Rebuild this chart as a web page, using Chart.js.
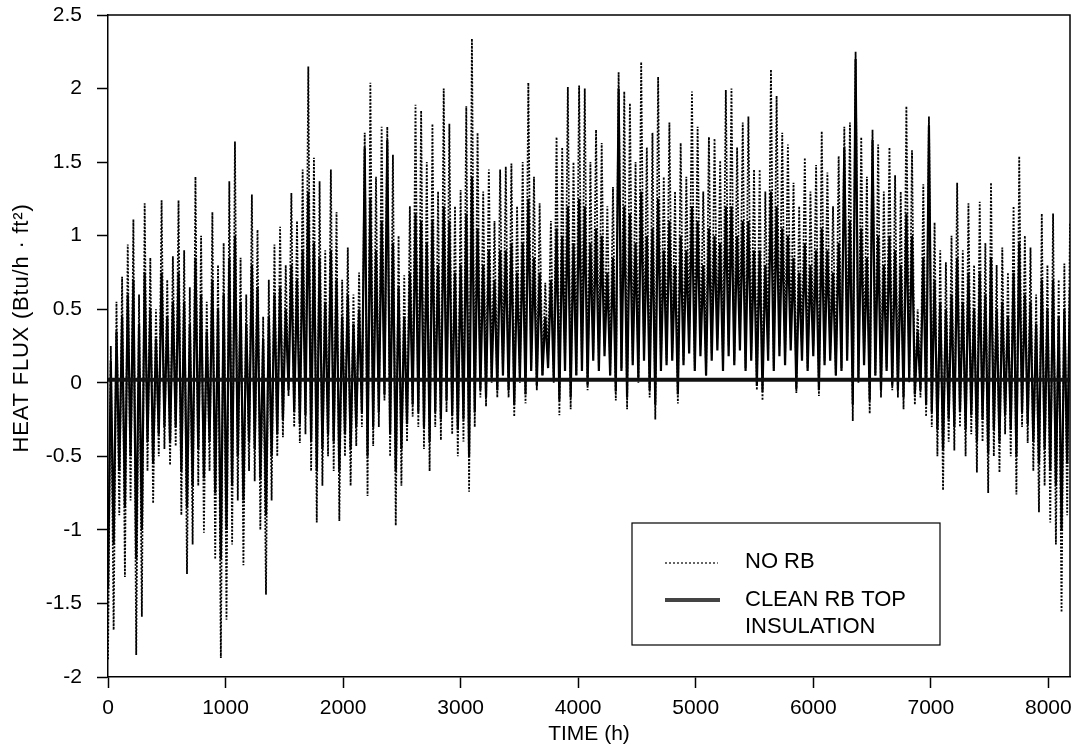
<!DOCTYPE html>
<html>
<head>
<meta charset="utf-8">
<title>Heat flux — NO RB vs CLEAN RB TOP INSULATION</title>
<script src="https://cdn.jsdelivr.net/npm/chart.js@4.4.1/dist/chart.umd.min.js"></script>
<style>
  html, body { margin: 0; padding: 0; background: #fff; }
  #wrap { width: 1080px; height: 751px; position: relative; }
</style>
</head>
<body>
<div id="wrap"><canvas id="chart"></canvas></div>
<script>
const BLOCK_HOURS = 48;
const X_MAX = 8184;
const BASELINE = 0.02;
const xTickValues = [0, 1000, 2000, 3000, 4000, 5000, 6000, 7000, 8000];

// NO RB (dotted) — block highs / lows, Btu/h·ft²
const noRbHigh = [
  0.25, 0.55, 0.72, 0.94, 1.11, 0.6, 1.22, 0.85, 0.5, 1.24,
  0.7, 0.86, 1.24, 0.9, 0.65, 1.40, 1.0, 0.55, 1.16, 0.8,
  0.95, 1.37, 1.64, 0.85, 0.6, 1.28, 1.04, 0.45, 0.7, 0.94,
  1.06, 0.8, 1.29, 1.1, 1.45, 2.15, 1.53, 1.37, 0.9, 1.45,
  1.16, 0.7, 0.92, 0.6, 0.75, 1.70, 2.04, 1.4, 1.74, 1.74,
  1.55, 1.0, 0.73, 1.2, 1.89, 1.85, 1.5, 1.76, 1.3, 2.0,
  1.76, 1.2, 1.31, 1.88, 2.34, 1.70, 1.3, 1.45, 1.1, 1.45,
  1.47, 1.49, 1.2, 1.50, 2.04, 1.4, 1.22, 0.68, 1.1, 1.67,
  1.6, 2.01, 1.5, 2.02, 2.0, 1.5, 1.72, 1.63, 1.2, 1.33,
  2.11, 1.98, 1.90, 1.5, 2.18, 1.6, 1.70, 2.08, 1.4, 1.77,
  1.3, 1.63, 1.4, 1.98, 1.74, 1.3, 1.67, 1.66, 1.51, 1.99,
  2.0, 1.6, 1.77, 1.81, 1.45, 1.45, 1.3, 2.13, 1.95, 1.7,
  1.62, 1.36, 1.2, 1.53, 1.3, 1.48, 1.71, 1.43, 1.2, 1.54,
  1.74, 1.77, 2.25, 1.67, 1.4, 1.72, 1.62, 1.3, 1.60, 1.41,
  1.3, 1.88, 1.58, 0.5, 1.35, 1.81, 1.09, 0.9, 0.82, 1.0,
  1.36, 0.9, 1.22, 0.8, 1.23, 0.95, 1.36, 0.8, 0.92, 0.75,
  1.2, 1.54, 1.0, 0.92, 0.6, 1.15, 0.8, 1.15, 0.7, 0.81, 1.09
];
const noRbLow = [
  -1.88, -1.68, -0.9, -1.32, -0.8, -1.85, -1.59, -0.6, -0.82, -0.5,
  -0.45, -0.56, -0.43, -0.9, -1.30, -1.1, -0.7, -1.02, -0.6, -1.2,
  -1.87, -1.61, -1.10, -0.8, -1.24, -0.6, -0.67, -1.0, -1.44, -0.8,
  -0.5, -0.37, -0.09, -0.3, -0.41, -0.35, -0.6, -0.95, -0.7, -0.5,
  -0.6, -0.94, -0.5, -0.7, -0.43, -0.3, -0.77, -0.43, -0.3, -0.12,
  -0.5, -0.97, -0.7, -0.4, -0.23, -0.3, -0.45, -0.60, -0.3, -0.39,
  -0.2, -0.35, -0.50, -0.4, -0.74, -0.3, -0.1, -0.16, 0.0, -0.1,
  0.05, -0.1, -0.23, 0.0, -0.14, 0.1, -0.05, 0.05, 0.15, 0.0,
  -0.22, 0.1, -0.18, 0.05, 0.1, -0.05, 0.2, 0.1, 0.25, 0.05,
  -0.12, 0.1, -0.18, 0.15, 0.0, 0.2, -0.1, -0.25, 0.1, 0.15,
  0.2, -0.14, 0.15, 0.3, 0.1, 0.25, 0.05, 0.2, 0.3, 0.1,
  0.25, 0.15, 0.3, 0.1, 0.2, -0.05, -0.12, 0.2, 0.1, 0.25,
  0.15, 0.3, -0.07, 0.2, 0.1, 0.25, -0.09, 0.15, 0.2, 0.05,
  0.1, 0.2, -0.26, 0.0, 0.15, -0.21, 0.05, -0.1, 0.1, -0.05,
  -0.1, -0.18, 0.0, -0.15, -0.1, -0.23, -0.3, -0.5, -0.73, -0.4,
  -0.46, -0.3, -0.5, -0.35, -0.61, -0.4, -0.75, -0.5, -0.61, -0.35,
  -0.5, -0.76, -0.3, -0.41, -0.6, -0.88, -0.7, -0.95, -1.1, -1.56, -0.9
];

// CLEAN RB TOP INSULATION (solid) — block highs / lows
const cleanHigh = [
  0.15, 0.35, 0.45, 0.6, 0.7, 0.4, 0.75, 0.5, 0.3, 0.75,
  0.45, 0.55, 0.75, 0.55, 0.4, 0.85, 0.6, 0.35, 0.7, 0.5,
  0.6, 0.85, 1.0, 0.55, 0.4, 0.8, 0.65, 0.3, 0.45, 0.6,
  0.65, 0.5, 0.8, 0.7, 0.9, 1.3, 0.95, 0.85, 0.55, 0.9,
  0.7, 0.45, 0.6, 0.4, 0.5, 1.6, 1.25, 0.9, 1.1, 1.65,
  0.95, 0.65, 0.45, 0.75, 1.15, 1.1, 0.95, 1.1, 0.8, 1.2,
  1.1, 0.75, 0.8, 1.15, 1.4, 1.05, 0.8, 0.9, 0.7, 0.9,
  0.9, 0.95, 0.75, 0.95, 1.25, 0.85, 0.75, 0.45, 0.7, 1.05,
  1.0, 1.2, 0.95, 1.25, 1.2, 0.95, 1.05, 1.0, 0.75, 0.85,
  2.0, 1.2, 1.15, 0.95, 1.3, 1.0, 1.05, 1.25, 0.9, 1.1,
  0.8, 1.0, 0.9, 1.2, 1.1, 0.8, 1.05, 1.0, 0.95, 1.2,
  1.2, 1.0, 1.1, 1.1, 0.9, 0.9, 0.8, 1.3, 1.2, 1.05,
  1.0, 0.85, 0.75, 0.95, 0.8, 0.9, 1.05, 0.9, 0.75, 0.95,
  1.6, 1.1, 2.2, 1.05, 0.85, 1.65, 1.0, 0.8, 1.0, 0.9,
  0.8, 1.15, 1.0, 0.35, 0.85, 1.75, 0.7, 0.55, 0.5, 0.6,
  0.85, 0.55, 0.75, 0.5, 0.75, 0.6, 0.85, 0.5, 0.55, 0.45,
  0.75, 0.95, 0.6, 0.55, 0.4, 0.7, 0.5, 0.7, 0.45, 0.5, 0.65
];
const cleanLow = [
  -1.4, -1.1, -0.6, -0.85, -0.5, -1.2, -1.0, -0.4, -0.55, -0.35,
  -0.3, -0.4, -0.3, -0.6, -0.85, -0.7, -0.45, -0.65, -0.4, -0.75,
  -1.2, -1.0, -0.7, -0.5, -0.8, -0.4, -0.45, -0.65, -0.9, -0.5,
  -0.35, -0.25, -0.05, -0.2, -0.28, -0.22, -0.4, -0.6, -0.45, -0.35,
  -0.4, -0.6, -0.35, -0.45, -0.3, -0.2, -0.5, -0.3, -0.2, -0.08,
  -0.35, -0.6, -0.45, -0.28, -0.15, -0.2, -0.3, -0.4, -0.2, -0.25,
  -0.12, -0.22, -0.32, -0.25, -0.5, -0.2, -0.05, -0.1, 0.02, -0.05,
  0.05, -0.05, -0.15, 0.02, -0.08, 0.08, -0.02, 0.05, 0.1, 0.02,
  -0.12, 0.08, -0.1, 0.05, 0.08, -0.02, 0.15, 0.08, 0.18, 0.05,
  -0.06, 0.08, -0.1, 0.12, 0.02, 0.15, -0.05, -0.15, 0.08, 0.12,
  0.15, -0.08, 0.12, 0.2, 0.08, 0.18, 0.05, 0.15, 0.22, 0.08,
  0.18, 0.12, 0.22, 0.08, 0.15, -0.02, -0.06, 0.15, 0.08, 0.18,
  0.12, 0.22, -0.04, 0.15, 0.08, 0.18, -0.05, 0.12, 0.15, 0.05,
  0.08, 0.15, -0.15, 0.02, 0.12, -0.12, 0.05, -0.05, 0.08, -0.02,
  -0.05, -0.1, 0.02, -0.08, -0.05, -0.15, -0.2, -0.32, -0.45, -0.25,
  -0.3, -0.2, -0.32, -0.22, -0.4, -0.25, -0.48, -0.32, -0.4, -0.22,
  -0.32, -0.5, -0.2, -0.28, -0.4, -0.55, -0.45, -0.6, -0.7, -1.0, -0.55
];

const legendItems = ['NO RB', 'CLEAN RB TOP|INSULATION'];
const xTitle = 'TIME (h)';
const yTitle = 'HEAT FLUX (Btu/h · ft²)';

const FONT = '"Liberation Sans", Arial, Helvetica, sans-serif';

// low at block start, high half a block later
function zigzag(lows, highs) {
  const pts = [];
  lows.forEach((lo, i) => {
    pts.push({ x: i * BLOCK_HOURS, y: lo });
    pts.push({ x: i * BLOCK_HOURS + BLOCK_HOURS / 2, y: highs[i] });
  });
  return pts;
}

const framePlugin = {
  id: 'frame',
  afterDraw(chart) {
    const { ctx, chartArea: a } = chart;
    ctx.save();
    ctx.strokeStyle = '#000';
    ctx.lineWidth = 1.5;
    ctx.beginPath();
    ctx.moveTo(a.left, a.top);
    ctx.lineTo(a.right, a.top);
    ctx.lineTo(a.right, a.bottom);
    ctx.stroke();

    // y title, drawn by hand so it can sit a little above centre like the scan
    ctx.fillStyle = '#000';
    ctx.font = '22px ' + FONT;
    ctx.letterSpacing = '0.8px';
    ctx.textAlign = 'center';
    ctx.textBaseline = 'middle';
    ctx.translate(22, 328);
    ctx.rotate(-Math.PI / 2);
    ctx.fillText(yTitle, 0, 0);
    ctx.restore();

    // legend box
    const bx = a.right - 438, by = a.bottom - 154, bw = 308, bh = 122;
    ctx.save();
    ctx.fillStyle = '#fff';
    ctx.fillRect(bx, by, bw, bh);
    ctx.strokeStyle = '#000';
    ctx.lineWidth = 1.2;
    ctx.strokeRect(bx, by, bw, bh);

    ctx.lineWidth = 1.2;
    ctx.setLineDash([2, 2]);
    ctx.beginPath();
    ctx.moveTo(bx + 33, by + 40);
    ctx.lineTo(bx + 86, by + 40);
    ctx.stroke();

    ctx.setLineDash([]);
    ctx.strokeStyle = '#444';
    ctx.lineWidth = 4;
    ctx.beginPath();
    ctx.moveTo(bx + 33, by + 77);
    ctx.lineTo(bx + 88, by + 77);
    ctx.stroke();

    ctx.fillStyle = '#000';
    ctx.font = '22px ' + FONT;
    ctx.textAlign = 'left';
    ctx.textBaseline = 'middle';
    ctx.fillText(legendItems[0], bx + 113, by + 39);
    const two = legendItems[1].split('|');
    ctx.fillText(two[0], bx + 113, by + 77);
    ctx.fillText(two[1], bx + 113, by + 104);
    ctx.restore();
  }
};

Chart.defaults.font.family = FONT;
Chart.defaults.font.size = 21;
Chart.defaults.color = '#000';

new Chart(document.getElementById('chart'), {
  type: 'line',
  data: {
    datasets: [
      {
        label: 'baseline',
        data: [{ x: 0, y: BASELINE }, { x: X_MAX, y: BASELINE }],
        borderColor: '#111',
        borderWidth: 4,
        pointRadius: 0
      },
      {
        label: 'NO RB',
        data: zigzag(noRbLow, noRbHigh),
        borderColor: '#000',
        borderWidth: 1.8,
        borderDash: [2, 1.5],
        pointRadius: 0
      },
      {
        label: 'CLEAN RB TOP INSULATION',
        data: zigzag(cleanLow, cleanHigh),
        borderColor: '#000',
        borderWidth: 2.2,
        pointRadius: 0
      }
    ]
  },
  options: {
    responsive: true,
    maintainAspectRatio: false,
    animation: false,
    layout: { padding: { top: 15, right: 10, left: 0, bottom: 0 } },
    elements: { line: { tension: 0 } },
    plugins: { legend: { display: false }, tooltip: { enabled: false } },
    scales: {
      x: {
        type: 'linear',
        min: 0,
        max: X_MAX,
        afterBuildTicks: s => { s.ticks = xTickValues.map(v => ({ value: v })); },
        afterFit: s => { s.height = 74; s.paddingLeft = 0; s.paddingRight = 0; },
        ticks: { padding: 8, maxRotation: 0, autoSkip: false, callback: v => String(v) },
        grid: { drawOnChartArea: false, drawTicks: true, tickLength: 11, color: '#000', tickWidth: 1.5 },
        border: { display: true, color: '#000', width: 1.5 },
        title: { display: true, text: xTitle, font: { size: 21 }, padding: { top: 0, bottom: 4 } }
      },
      y: {
        min: -2,
        max: 2.5,
        afterFit: s => { s.width = 108; s.paddingTop = 0; s.paddingBottom = 0; },
        ticks: { stepSize: 0.5, padding: 15, callback: v => String(v) },
        grid: { drawOnChartArea: false, drawTicks: true, tickLength: 11, color: '#000', tickWidth: 1.5 },
        border: { display: true, color: '#000', width: 1.5 }
      }
    }
  },
  plugins: [framePlugin]
});
</script>
</body>
</html>
